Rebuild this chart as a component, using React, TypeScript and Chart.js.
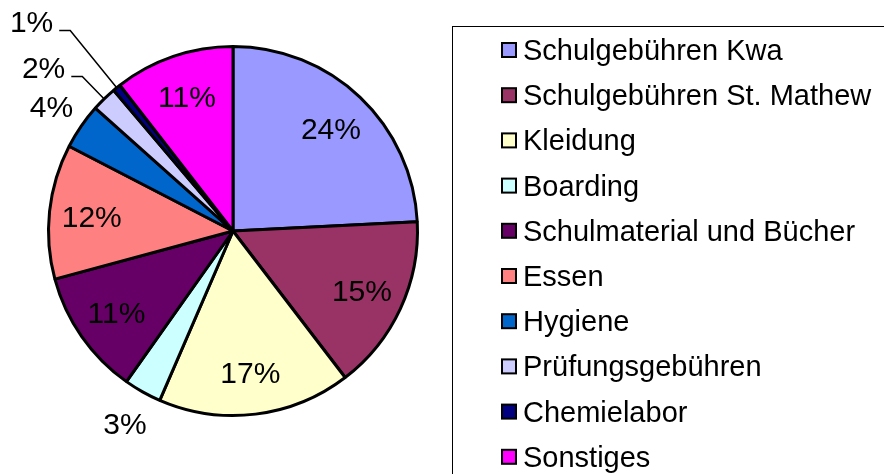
import { useEffect, useRef } from "react";
import { Chart, registerables } from "chart.js";

Chart.register(...registerables);

const categories = [
  "Schulgebühren Kwa",
  "Schulgebühren St. Mathew",
  "Kleidung",
  "Boarding",
  "Schulmaterial und Bücher",
  "Essen",
  "Hygiene",
  "Prüfungsgebühren",
  "Chemielabor",
  "Sonstiges",
];
const shares = [24.2, 15.4, 16.9, 3.3, 11.0, 11.8, 4.0, 2.2, 0.7, 10.5];
const sliceColors = [
  "#9999FF",
  "#993366",
  "#FFFFCC",
  "#CCFFFF",
  "#660066",
  "#FF8080",
  "#0066CC",
  "#CCCCFF",
  "#000080",
  "#FF00FF",
];

const LEGEND_FONT = "29px 'Liberation Sans', Arial, sans-serif";
const LABEL_FONT = "30px 'Liberation Sans', Arial, sans-serif";

const pieLabels = {
  id: "pieLabels",
  afterDatasetsDraw(chart: any) {
    const ctx = chart.ctx as CanvasRenderingContext2D;
    const meta = chart.getDatasetMeta(0);
    const data = chart.data.datasets[0].data as number[];
    const total = data.reduce((a, b) => a + b, 0);
    ctx.save();
    ctx.font = LABEL_FONT;
    ctx.fillStyle = "#000";
    ctx.strokeStyle = "#000";
    ctx.textBaseline = "alphabetic";
    let tiny = 0;
    meta.data.forEach((arc: any, i: number) => {
      const p = arc.getProps(["x", "y", "startAngle", "endAngle", "outerRadius"], true);
      const mid = (p.startAngle + p.endAngle) / 2;
      const c = Math.cos(mid);
      const s = Math.sin(mid);
      const R = p.outerRadius;
      const pct = (data[i] / total) * 100;
      const text = Math.round(pct) + "%";
      const capHalf = 10.7;
      if (pct >= 5) {
        const d = R * 0.77;
        ctx.textAlign = "center";
        ctx.fillText(text, p.x + c * d, p.y + s * d + capHalf);
      } else if (pct >= 3) {
        const d = R + 36;
        ctx.textAlign = "center";
        ctx.fillText(text, p.x + c * d, p.y + s * d + capHalf);
      } else {
        const k = 1.17 + 0.23 * tiny;
        tiny++;
        const sx = p.x + c * R;
        const sy = p.y + s * R;
        const ex = p.x + c * R * k;
        const ey = p.y + s * R * k;
        ctx.lineWidth = 1.5;
        ctx.beginPath();
        ctx.moveTo(sx, sy);
        ctx.lineTo(ex, ey);
        ctx.lineTo(ex - 11, ey);
        ctx.stroke();
        ctx.textAlign = "right";
        ctx.fillText(text, ex - 17, ey + 2);
      }
    });
    ctx.restore();
  },
};

const boxLegend = {
  id: "boxLegend",
  afterDraw(chart: any) {
    const ctx = chart.ctx as CanvasRenderingContext2D;
    const labels = chart.data.labels as string[];
    const cols = chart.data.datasets[0].backgroundColor as string[];
    ctx.save();
    ctx.strokeStyle = "#000";
    ctx.lineWidth = 1;
    ctx.strokeRect(452.5, 26.5, 600, 600);
    labels.forEach((lab, i) => {
      const cy = 50 + i * 45.2;
      ctx.fillStyle = cols[i];
      ctx.fillRect(502, cy - 7, 14, 14);
      ctx.strokeStyle = "#000";
      ctx.lineWidth = 2;
      ctx.strokeRect(502, cy - 7, 14, 14);
      ctx.fillStyle = "#000";
      ctx.font = LEGEND_FONT;
      ctx.textAlign = "left";
      ctx.textBaseline = "alphabetic";
      ctx.fillText(lab, 523, cy + 10);
    });
    ctx.restore();
  },
};

export default function App() {
  const ref = useRef<HTMLCanvasElement>(null);
  useEffect(() => {
    if (!ref.current) return;
    const chart = new Chart(ref.current, {
      type: "pie",
      data: {
        labels: categories,
        datasets: [
          {
            data: shares,
            backgroundColor: sliceColors,
            borderColor: "#000",
            borderWidth: 3,
            hoverOffset: 0,
            offset: 0,
          },
        ],
      },
      options: {
        animation: false,
        responsive: false,
        devicePixelRatio: 1,
        events: [],
        layout: { padding: { left: 47, top: 45, right: 465, bottom: 57 } },
        plugins: {
          legend: { display: false },
          tooltip: { enabled: false },
          title: { display: false },
        },
      },
      plugins: [pieLabels, boxLegend],
    });
    return () => chart.destroy();
  }, []);
  return (
    <div style={{ position: "absolute", left: 0, top: 0, width: 884, height: 474, background: "#fff" }}>
      <canvas ref={ref} width={884} height={474} />
    </div>
  );
}
